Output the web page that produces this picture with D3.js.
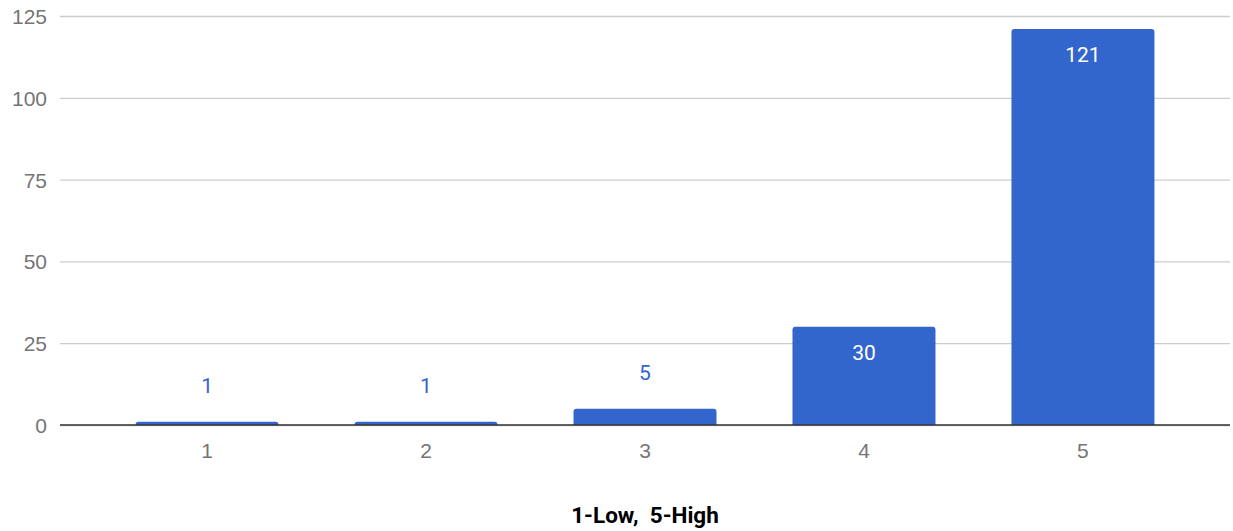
<!DOCTYPE html>
<html>
<head>
<meta charset="utf-8">
<script src="https://cdn.jsdelivr.net/npm/d3@7"></script>
<style>
  body { margin: 0; background: #fff; }
  svg  { display: block; font-family: Roboto, sans-serif; }
</style>
</head>
<body>
<script>
// chart data
var categories = ["1", "2", "3", "4", "5"];
var counts     = [1, 1, 5, 30, 121];
var yTicks     = [0, 25, 50, 75, 100, 125];
var xTitle     = "1-Low,  5-High";

var width  = 1233;
var height = 531;
var plotLeft = 60, plotRight = 1230, plotTop = 16, plotBottom = 425;

var svg = d3.select("body").append("svg")
    .attr("width", width)
    .attr("height", height);

var x = d3.scaleBand()
    .domain(categories)
    .range([plotLeft, plotRight])
    .paddingInner(0.347)
    .paddingOuter(0.345);

var y = d3.scaleLinear()
    .domain([0, 125])
    .range([plotBottom, plotTop]);

// gridlines + y labels
var yAxis = svg.append("g")
    .attr("transform", `translate(${plotLeft},0)`)
    .call(d3.axisLeft(y).tickValues(yTicks).tickSize(-(plotRight - plotLeft)).tickPadding(13));
yAxis.select(".domain").remove();
yAxis.selectAll(".tick line").attr("stroke", "#cccccc").attr("stroke-width", 1.3);
yAxis.selectAll(".tick text")
     .attr("fill", "#757575")
     .style("font-size", "21px")
     .attr("dy", "0.36em");

// bars (rounded tops)
var rr = 3;
var barPath = (d, i) => {
    var x0 = x(categories[i]), x1 = x0 + x.bandwidth();
    var y0 = y(d), yb = y(0);
    var r = Math.min(rr, (yb - y0));
    return `M${x0},${yb}V${y0 + r}Q${x0},${y0} ${x0 + r},${y0}`
         + `H${x1 - r}Q${x1},${y0} ${x1},${y0 + r}V${yb}Z`;
};
svg.append("g")
   .selectAll("path")
   .data(counts)
   .enter().append("path")
   .attr("d", barPath)
   .attr("fill", "#3366cc");

// value labels
var inside = d => (plotBottom - y(d) > 60);
svg.append("g")
   .selectAll("text")
   .data(counts)
   .enter().append("text")
   .attr("x", (d, i) => x(categories[i]) + x.bandwidth() / 2)
   .attr("y", d => inside(d) ? y(d) + 33 : y(d) - 29)
   .attr("text-anchor", "middle")
   .attr("fill", d => inside(d) ? "#ffffff" : "#3366cc")
   .style("font-size", "21px")
   .text(d => d);

// baseline + x labels
var xAxis = svg.append("g")
    .attr("transform", `translate(0,${plotBottom})`)
    .call(d3.axisBottom(x).tickSize(0).tickPadding(18));
xAxis.select(".domain").remove();
xAxis.selectAll(".tick text")
     .attr("fill", "#757575")
     .style("font-size", "21px");

svg.append("line")
   .attr("x1", plotLeft).attr("x2", plotRight)
   .attr("y1", plotBottom).attr("y2", plotBottom)
   .attr("stroke", "#333333")
   .attr("stroke-width", 1.5);

svg.append("text")
   .attr("x", (plotLeft + plotRight) / 2)
   .attr("y", 523)
   .attr("text-anchor", "middle")
   .attr("fill", "#000")
   .style("font-size", "22.5px")
   .style("font-weight", "bold")
   .style("white-space", "pre")
   .text(xTitle);
</script>
</body>
</html>
